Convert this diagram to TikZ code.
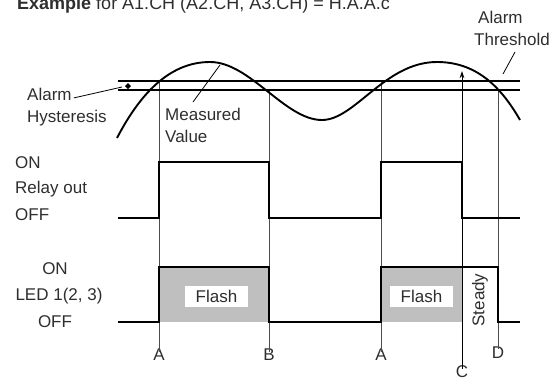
\documentclass[tikz,border=0pt]{standalone}
\usepackage{fontspec}
\setmainfont{Liberation Sans}
\usetikzlibrary{arrows.meta}
\begin{document}
\begin{tikzpicture}[x=1pt,y=-1pt,
  lbl/.style={inner sep=0pt,text=black!82,font=\fontsize{17}{20}\selectfont},
  wave/.style={line width=1.9pt,line join=miter},
  guide/.style={line width=0.6pt,draw=black!70},
  thr/.style={line width=1.1pt},
  ptr/.style={line width=0.8pt},
  flashbox/.style={lbl,fill=white,minimum width=63pt,minimum height=21pt,inner sep=0pt}]
\useasboundingbox (0,0) rectangle (559,381);
% title (clipped at top, as in the reference)
\node[lbl,anchor=base west,font=\fontsize{18}{20}\selectfont] (title) at (17,9.5) {\textbf{Example} for A1.CH (A2.CH, A3.CH) = H.A.A.c};
% LED gray fills
\fill[black!25] (159,267) rectangle (269,322);
\fill[black!25] (381,267) rectangle (462,322);
% labels A B C D
\node[lbl] (A1) at (159,355) {A};
\node[lbl] (B) at (269,355) {B};
\node[lbl] (A2) at (381,355) {A};
\node[lbl] (C) at (462,372) {C};
\node[lbl] (D) at (498,353) {D};
% guide verticals
\coordinate (a1t) at (159,81);
\coordinate (bt) at (269,90);
\coordinate (a2t) at (381,81);
\coordinate (dt) at (498,90);
\coordinate (ct) at (462,71);
\draw[guide] (a1t) -- ([yshift=-3pt]A1.north);
\draw[guide] (bt) -- ([yshift=-3pt]B.north);
\draw[guide] (a2t) -- ([yshift=-3pt]A2.north);
\draw[guide] (dt) -- ([yshift=-2pt]D.north);
\draw[line width=0.8pt,-{Stealth[length=7pt,width=4.5pt]}] ([yshift=-3pt]C.north) -- (ct);
% threshold lines
\draw[thr] (118,81) -- (520,81);
\draw[thr] (118,90) -- (520,90);
\fill (128,83) -- (131,86) -- (128,89) -- (125,86) -- cycle;
% measured value curve
\draw[line width=1.9pt] (117,138) .. controls (142,90) and (172,62) .. (210,62)
  .. controls (250,62) and (285,120) .. (322,120)
  .. controls (355,120) and (385,62) .. (437,62)
  .. controls (475,62) and (500,85) .. (520,120);
% relay
\draw[wave] (118,218) -- (159,218) -- (159,162) -- (269,162) -- (269,218) -- (381,218) -- (381,162) -- (462,162) -- (462,218) -- (520,218);
% LED
\draw[wave] (118,322) -- (159,322) -- (159,267) -- (269,267) -- (269,322) -- (381,322) -- (381,267) -- (498,267) -- (498,322) -- (520,322);
\node[flashbox] (fl1) at (216.5,296.5) {Flash};
\node[flashbox] (fl2) at (421.5,296.5) {Flash};
\node[lbl,rotate=90] (steady) at (480,300) {Steady};
% text labels
\node[lbl,anchor=base west] (ah1) at (27,100) {Alarm};
\node[lbl,anchor=base west] (ah2) at (27,122) {Hysteresis};
\coordinate (hystip) at (122,87);
\draw[ptr] ([xshift=2pt,yshift=-4pt]ah1.east) -- (hystip);
\node[lbl,anchor=base west] (mv1) at (165,120) {Measured};
\node[lbl,anchor=base west] (mv2) at (165,142) {Value};
\coordinate (mvtip) at (220,65);
\draw[ptr] (193,102) coordinate (mvfoot) -- (mvtip);
\node[lbl,anchor=base west] (at1) at (478,23) {Alarm};
\node[lbl,anchor=base west] (at2) at (474,45) {Threshold};
\coordinate (attip) at (503,74);
\draw[ptr] (515,52) coordinate (atfoot) -- (attip);
\node[lbl,anchor=base west] (r1) at (15,168) {ON};
\node[lbl,anchor=base west] (r2) at (15,193) {Relay out};
\node[lbl,anchor=base west] (r3) at (15,220) {OFF};
\node[lbl,anchor=base] (l1) at (55,274) {ON};
\node[lbl,anchor=base] (l2) at (59,300) {LED 1(2, 3)};
\node[lbl,anchor=base] (l3) at (55,327) {OFF};
\end{tikzpicture}
\end{document}
